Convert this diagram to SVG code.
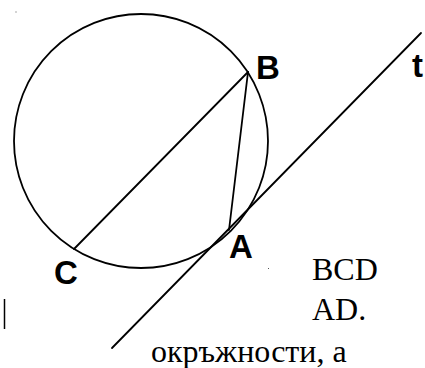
<svg xmlns="http://www.w3.org/2000/svg" width="425" height="368" viewBox="0 0 425 368">
<style>
.ln{fill:none;stroke:#000;stroke-width:1.8;stroke-linecap:round}
.lbl{font-family:"Liberation Sans",Arial,sans-serif;font-weight:bold;font-size:33px;fill:#000}
.txt{font-family:"Liberation Serif","Times New Roman",serif;font-size:32px;fill:#000}
</style>
<rect width="425" height="368" fill="#fff"/>
<g id="circle"><circle class="ln" cx="141" cy="141" r="127"/></g>
<g id="connectors">
<line class="ln" x1="74" y1="249" x2="248" y2="72"/>
<line class="ln" x1="248" y1="72" x2="229" y2="230"/>
<line class="ln" x1="112" y1="348" x2="421" y2="33"/>
</g>
<g id="node-B"><text class="lbl" x="256" y="79">B</text></g>
<g id="node-t"><text class="lbl" x="412" y="77">t</text></g>
<g id="node-A"><text class="lbl" x="229" y="258">A</text></g>
<g id="node-C"><text class="lbl" x="54" y="284">C</text></g>
<g id="texts">
<text class="txt" x="312" y="280">BCD</text>
<text class="txt" x="312" y="320">AD.</text>
<text class="txt" x="151" y="362">окръжности, а</text>
</g>
<line x1="4.5" y1="299" x2="4.5" y2="329" stroke="#000" stroke-width="1.5"/>
<rect x="15.5" y="11.5" width="1" height="1" fill="#555"/>
<rect x="268" y="268" width="1" height="1" fill="#555"/>
</svg>
